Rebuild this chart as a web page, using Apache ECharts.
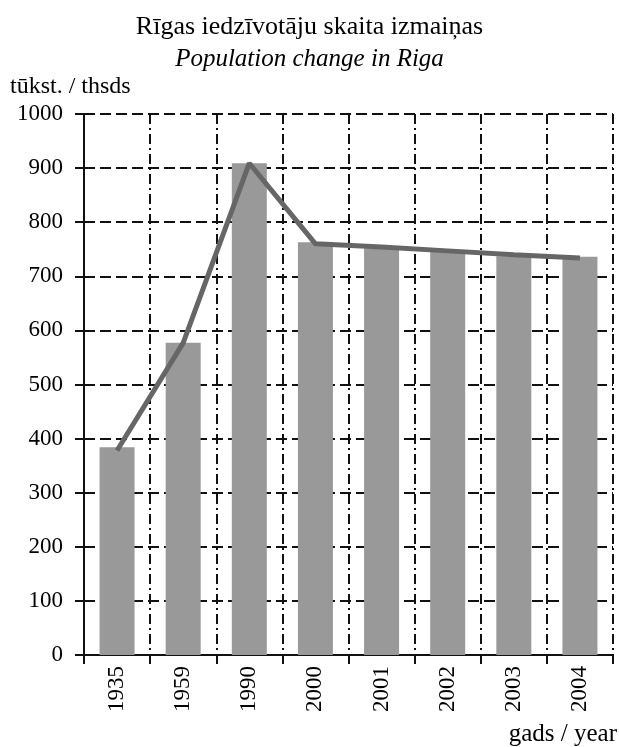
<!DOCTYPE html>
<html>
<head>
<meta charset="utf-8">
<script src="https://cdn.jsdelivr.net/npm/echarts@6/dist/echarts.min.js"></script>
<style>
  html, body { margin: 0; padding: 0; background: #fff; }
  #main { width: 619px; height: 747px; }
</style>
</head>
<body>
<div id="main"></div>
<script>
  // gadi / years
  var years = ['1935', '1959', '1990', '2000', '2001', '2002', '2003', '2004'];
  // iedzīvotāji, tūkst. (stabiņi)
  var barValues = [384, 577, 909, 763, 752, 745, 737, 736];
  // līnija
  var lineValues = [378, 577, 909, 760, 754, 747, 740, 734];

  var serif = "'Liberation Serif', 'DejaVu Serif', serif";

  var chart = echarts.init(document.getElementById('main'));
  chart.setOption({
    backgroundColor: '#fff',
    animation: false,
    title: [
      {
        text: 'Rīgas iedzīvotāju skaita izmaiņas',
        left: 'center',
        top: 9,
        textStyle: { fontFamily: serif, fontSize: 26, fontWeight: 'normal', color: '#000' }
      },
      {
        text: 'Population change in Riga',
        left: 'center',
        top: 42,
        textStyle: { fontFamily: serif, fontSize: 25, fontStyle: 'italic', fontWeight: 'normal', color: '#000' }
      }
    ],
    graphic: [
      {
        type: 'text', left: 10, top: 75,
        style: { text: 'tūkst. / thsds', font: '24px ' + serif, fill: '#000' }
      },
      {
        type: 'text', right: 2, top: 722,
        style: { text: 'gads / year', font: '25px ' + serif, fill: '#000' }
      }
    ],
    grid: { left: 84, right: 6, top: 114, bottom: 92 },
    xAxis: {
      type: 'category',
      data: years,
      boundaryGap: true,
      axisLine: { lineStyle: { color: '#111', width: 2 } },
      axisTick: { show: true, length: 9, lineStyle: { color: '#111', width: 2 } },
      axisLabel: { rotate: 90, margin: 11, fontFamily: serif, fontSize: 23, color: '#000' },
      splitLine: { show: true, lineStyle: { color: '#111', width: 2, type: [10, 4, 2, 4] } }
    },
    yAxis: {
      type: 'value',
      min: 0,
      max: 1000,
      interval: 100,
      axisLine: { show: true, lineStyle: { color: '#111', width: 2 } },
      axisTick: { show: true, length: 9, lineStyle: { color: '#111', width: 2 } },
      axisLabel: {
        margin: 21, fontFamily: serif, fontSize: 23, color: '#000',
        formatter: function (v) { return String(v); }
      },
      splitLine: { show: true, lineStyle: { color: '#111', width: 2, type: [11, 5] } }
    },
    series: [
      {
        type: 'bar',
        data: barValues,
        barWidth: 35,
        itemStyle: { color: '#999' },
        z: 2
      },
      {
        type: 'line',
        data: lineValues,
        symbol: 'none',
        lineStyle: { color: '#666', width: 5 },
        z: 3
      }
    ]
  });
</script>
</body>
</html>
